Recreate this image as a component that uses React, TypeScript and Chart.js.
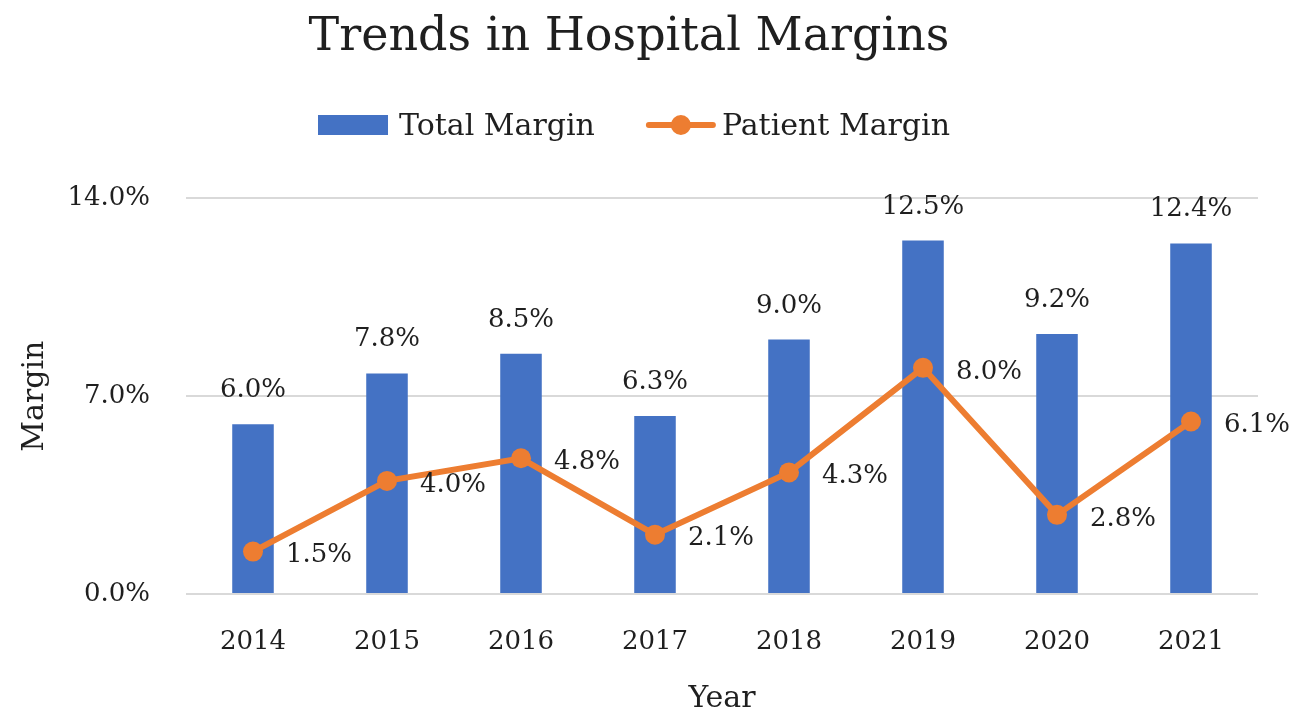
import React, { useEffect, useRef } from "react";
import { Chart, registerables } from "chart.js";

Chart.register(...registerables);

const years = ["2014", "2015", "2016", "2017", "2018", "2019", "2020", "2021"];
const totalMargin = [6.0, 7.8, 8.5, 6.3, 9.0, 12.5, 9.2, 12.4];
const patientMargin = [1.5, 4.0, 4.8, 2.1, 4.3, 8.0, 2.8, 6.1];
const yMin = 0;
const yMax = 14;
const yStep = 7;

const FONT = "'DejaVu Serif', 'Liberation Serif', serif";
const TEXT = "#1f1f1f";
const BLUE = "#4472C4";
const ORANGE = "#ED7D31";
const GRID = "#D9D9D9";

const fmt = (v: number) => v.toFixed(1) + "%";

const dataLabelPlugin = {
  id: "dataLabels",
  afterDatasetsDraw(chart: any) {
    const ctx = chart.ctx;
    ctx.save();
    ctx.font = `26px ${FONT}`;
    ctx.fillStyle = TEXT;
    chart.data.datasets.forEach((ds: any, i: number) => {
      const meta = chart.getDatasetMeta(i);
      meta.data.forEach((el: any, j: number) => {
        const v = ds.data[j] as number;
        if (ds.type === "bar") {
          ctx.textAlign = "center";
          ctx.textBaseline = "alphabetic";
          ctx.fillText(fmt(v), el.x, el.y - 27);
        } else {
          ctx.textAlign = "left";
          ctx.textBaseline = "middle";
          ctx.fillText(fmt(v), el.x + 33, el.y + 4);
        }
      });
    });
    ctx.restore();
  },
};

const legendPlugin = {
  id: "customLegend",
  afterDraw(chart: any) {
    const ctx = chart.ctx;
    const all = chart.data.datasets;
    const barDs = all.find((d: any) => d.type === "bar");
    const lineDs = all.find((d: any) => d.type === "line");
    ctx.save();
    ctx.font = `30px ${FONT}`;
    ctx.textBaseline = "middle";
    ctx.textAlign = "left";
    const y = 125;
    const boxW = 70;
    const gap = 11;
    const itemGap = 51;
    const w0 = ctx.measureText(barDs.label).width;
    const w1 = ctx.measureText(lineDs.label).width;
    const total = boxW + gap + w0 + itemGap + boxW + gap - 5 + w1;
    let x = 634 - total / 2;
    // bar item
    ctx.fillStyle = barDs.backgroundColor;
    ctx.fillRect(x, y - 10, boxW, 20);
    x += boxW + gap;
    ctx.fillStyle = TEXT;
    ctx.fillText(barDs.label, x, y + 2);
    x += w0 + itemGap;
    // line item
    ctx.strokeStyle = lineDs.borderColor;
    ctx.lineWidth = 6;
    ctx.lineCap = "round";
    ctx.beginPath();
    ctx.moveTo(x + 3, y);
    ctx.lineTo(x + boxW - 3, y);
    ctx.stroke();
    ctx.fillStyle = lineDs.borderColor;
    ctx.beginPath();
    ctx.arc(x + boxW / 2, y, 10, 0, Math.PI * 2);
    ctx.fill();
    x += boxW + gap - 5;
    ctx.fillStyle = TEXT;
    ctx.fillText(lineDs.label, x, y + 2);
    ctx.restore();
  },
};

export default function App() {
  const ref = useRef<HTMLCanvasElement | null>(null);

  useEffect(() => {
    if (!ref.current) return;
    const chart = new Chart(ref.current, {
      type: "bar",
      data: {
        labels: years,
        datasets: [
          {
            type: "line",
            label: "Patient Margin",
            data: patientMargin,
            borderColor: ORANGE,
            backgroundColor: ORANGE,
            borderWidth: 6,
            pointRadius: 10,
            pointBackgroundColor: ORANGE,
            pointBorderWidth: 0,
            tension: 0,
            order: 0,
          } as any,
          {
            type: "bar",
            label: "Total Margin",
            data: totalMargin,
            backgroundColor: BLUE,
            barPercentage: 0.31,
            categoryPercentage: 1,
            order: 1,
          } as any,
        ],
      },
      options: {
        animation: false,
        responsive: true,
        maintainAspectRatio: false,
        layout: { padding: { left: 0, right: 35, top: 0, bottom: 0 } },
        plugins: {
          legend: { display: false },
          tooltip: { enabled: false },
          title: {
            display: true,
            text: "Trends in Hospital Margins",
            color: TEXT,
            font: { family: FONT, size: 46, weight: "normal" },
            padding: { top: 10, bottom: 133 },
          },
        },
        scales: {
          x: {
            grid: { display: false, drawTicks: false },
            border: { display: false },
            ticks: {
              color: TEXT,
              font: { family: FONT, size: 26 },
              padding: 33,
            },
            title: {
              display: true,
              text: "Year",
              color: TEXT,
              font: { family: FONT, size: 30 },
              padding: { top: 0, bottom: 5 },
            },
            afterFit: (axis: any) => {
              axis.height = 128;
            },
          },
          y: {
            min: yMin,
            max: yMax,
            grid: { color: GRID, lineWidth: 2, drawTicks: false },
            border: { display: false },
            ticks: {
              stepSize: yStep,
              color: TEXT,
              font: { family: FONT, size: 26 },
              padding: 36,
              callback: (v: any) => fmt(Number(v)),
            },
            title: {
              display: true,
              text: "Margin",
              color: TEXT,
              font: { family: FONT, size: 30 },
              padding: { top: 17, bottom: 0 },
            },
            afterFit: (axis: any) => {
              axis.width = 186;
            },
          },
        },
      } as any,
      plugins: [dataLabelPlugin, legendPlugin],
    });
    return () => chart.destroy();
  }, []);

  return (
    <div style={{ position: "fixed", left: 0, top: 0, width: 1293, height: 722, background: "#fff" }}>
      <canvas ref={ref} />
    </div>
  );
}
